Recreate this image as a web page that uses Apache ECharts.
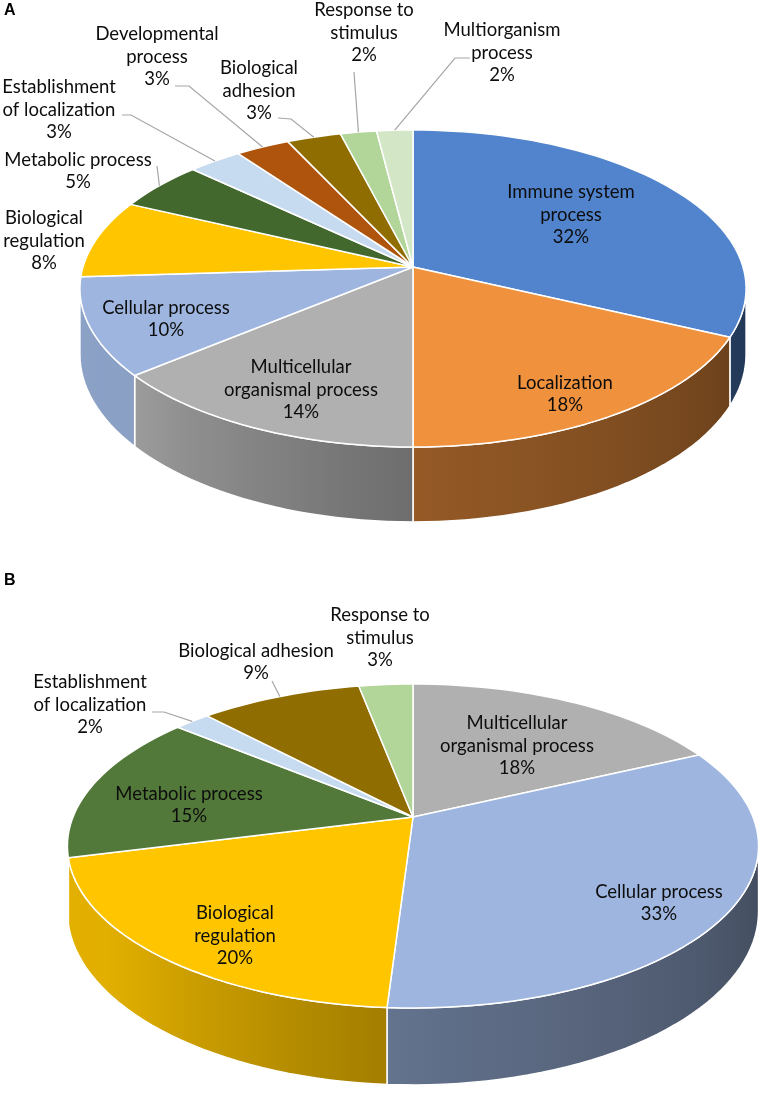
<!DOCTYPE html>
<html>
<head>
<meta charset="utf-8">
<script src="https://cdn.jsdelivr.net/npm/echarts@6/dist/echarts.min.js"></script>
<style>
html,body{margin:0;padding:0;background:#fff}
#chart{width:765px;height:1095px}
</style>
</head>
<body>
<div id="chart"></div>
<script>
// panel A - clockwise from 12 o'clock
const namesA = ['Immune system\nprocess', 'Localization', 'Multicellular\norganismal process', 'Cellular process',
  'Biological\nregulation', 'Metabolic process', 'Establishment\nof localization', 'Developmental\nprocess',
  'Biological\nadhesion', 'Response to\nstimulus', 'Multiorganism\nprocess'];
const valuesA = [32, 18, 14, 10, 8, 5, 3, 3, 3, 2, 2];
const colorsA = ['#5184CD', '#F0913D', '#B0B0B0', '#9DB5DF', '#FFC600', '#43682E', '#C6DAF0', '#AE540C', '#8F6D00', '#B2D59A', '#D3E6C5'];

// panel B
const namesB = ['Multicellular\norganismal process', 'Cellular process', 'Biological\nregulation', 'Metabolic process',
  'Establishment\nof localization', 'Biological adhesion', 'Response to\nstimulus'];
const valuesB = [18, 33, 20, 15, 2, 9, 3];
const colorsB = ['#B0B0B0', '#9DB5DF', '#FFC600', '#52793A', '#C6DAF0', '#8F6D00', '#B2D59A'];

// label placement (text centre, optional leader start/elbow)
const labelsA = [
  {x: 571, y: 215}, {x: 565, y: 394}, {x: 301, y: 390}, {x: 166, y: 319}, {x: 44, y: 241},
  {x: 78, y: 171, leader: [[157, 166]]},
  {x: 59, y: 110, leader: [[122, 115], [131, 115]]},
  {x: 157, y: 57, leader: [[175, 86], [189, 86]]},
  {x: 259, y: 91, leader: [[278, 118], [291, 119]]},
  {x: 364, y: 33, leader: [[354, 72]]},
  {x: 502, y: 53, leader: [[470, 58], [455, 58]]}
];
const labelsB = [
  {x: 517, y: 746}, {x: 659, y: 903}, {x: 235, y: 936}, {x: 189, y: 805},
  {x: 90, y: 705, leader: [[152, 712], [164, 712]]},
  {x: 256, y: 662, leader: [[272, 681]]},
  {x: 380, y: 638}
];

// tilted disc with a bit of perspective
const pieA = {cx: 413, cy: 267, kx: 330, ky: 155.6, a: 0.1356, h: 64.8};
const pieB = {cx: 413, cy: 817, kx: 340, ky: 156.8, a: 0.179, h: 63.2};

function proj(p, deg, r) {
  const t = deg * Math.PI / 180, X = r * Math.sin(t), Y = r * Math.cos(t), d = 1 + p.a * Y;
  return [p.cx + p.kx * X / d, p.cy - p.ky * Y / d];
}
function depth(p, deg) {
  return p.h / (1 + p.a * Math.cos(deg * Math.PI / 180));
}

// side wall brightness by angle
const shadeAt = [[90, 0.40], [115, 0.45], [180, 0.62], [230, 0.88], [275, 0.90]];
function shade(deg) {
  if (deg <= shadeAt[0][0]) return shadeAt[0][1];
  for (let i = 1; i < shadeAt.length; i++) {
    if (deg <= shadeAt[i][0]) {
      const [d0, f0] = shadeAt[i - 1], [d1, f1] = shadeAt[i];
      return f0 + (f1 - f0) * (deg - d0) / (d1 - d0);
    }
  }
  return shadeAt[shadeAt.length - 1][1];
}
function dim(hex, f) {
  const n = parseInt(hex.slice(1), 16);
  const r = Math.round(((n >> 16) & 255) * f), g = Math.round(((n >> 8) & 255) * f), b = Math.round((n & 255) * f);
  return 'rgb(' + r + ',' + g + ',' + b + ')';
}

function makeRender(p, values, names, colors, labels) {
  const total = values.reduce((s, v) => s + v, 0);
  const starts = [];
  values.reduce((s, v, i) => { starts[i] = s; return s + v; }, 0);
  const lim = Math.acos(-p.a) * 180 / Math.PI;

  return function (params, api) {
    const i = params.dataIndex;
    const v = api.value(0);
    const s = starts[i] / total * 360, e = s + v / total * 360;
    const kids = [];

    // top face
    const n = Math.max(4, Math.ceil((e - s) / 2));
    const pts = [[p.cx, p.cy]];
    for (let k = 0; k <= n; k++) pts.push(proj(p, s + (e - s) * k / n, 1));
    kids.push({type: 'polygon', z2: 2, shape: {points: pts},
      style: {fill: colors[i], stroke: '#fff', lineWidth: 1.5, lineJoin: 'round'}});

    // outer wall (front half only)
    const w1 = Math.max(s, lim), w2 = Math.min(e, 360 - lim);
    if (w2 > w1) {
      const m = Math.max(4, Math.ceil((w2 - w1) / 2));
      const top = [], bot = [];
      for (let k = 0; k <= m; k++) {
        const d = w1 + (w2 - w1) * k / m;
        const q = proj(p, d, 1);
        top.push(q);
        bot.push([q[0], q[1] + depth(p, d)]);
      }
      const xl = proj(p, w2, 1)[0], xr = proj(p, w1, 1)[0];
      const stops = [];
      for (let j = 0; j <= 10; j++) {
        const d = w2 - (w2 - w1) * j / 10;
        const off = xr > xl ? (proj(p, d, 1)[0] - xl) / (xr - xl) : j / 10;
        stops.push({offset: Math.min(1, Math.max(0, off)), color: dim(colors[i], shade(d))});
      }
      kids.push({type: 'polygon', z2: 1, shape: {points: top.concat(bot.reverse())},
        style: {fill: {type: 'linear', x: xl, y: 0, x2: xr, y2: 0, global: true, colorStops: stops},
          stroke: '#fff', lineWidth: 1.5, lineJoin: 'round'}});
    }

    // label + leader
    const lab = labels[i];
    if (lab.leader) {
      const edge = proj(p, (s + e) / 2, 1);
      kids.push({type: 'polyline', z2: 3, shape: {points: lab.leader.concat([edge])},
        style: {stroke: '#a6a6a6', lineWidth: 1.2, fill: null}});
    }
    kids.push({type: 'text', z2: 4, x: lab.x, y: lab.y,
      style: {text: names[i] + '\n' + v + '%', fill: '#0d0d0d', fontSize: 18.5, fontFamily: 'Lato',
        lineHeight: 22.5, align: 'center', verticalAlign: 'middle'}});

    return {type: 'group', children: kids};
  };
}

function pieSeries(p, values, names, colors, labels) {
  return {
    type: 'custom',
    coordinateSystem: 'none',
    silent: true,
    data: values.map((v, i) => ({name: names[i], value: v})),
    renderItem: makeRender(p, values, names, colors, labels)
  };
}

const chart = echarts.init(document.getElementById('chart'));
chart.setOption({
  animation: false,
  backgroundColor: '#fff',
  graphic: [
    {type: 'text', left: 4, top: 3, style: {text: 'A', fill: '#000', font: 'bold 16px "Liberation Sans"'}},
    {type: 'text', left: 4, top: 573, style: {text: 'B', fill: '#000', font: 'bold 16px "Liberation Sans"'}}
  ],
  series: [
    pieSeries(pieA, valuesA, namesA, colorsA, labelsA),
    pieSeries(pieB, valuesB, namesB, colorsB, labelsB)
  ]
});
</script>
</body>
</html>
